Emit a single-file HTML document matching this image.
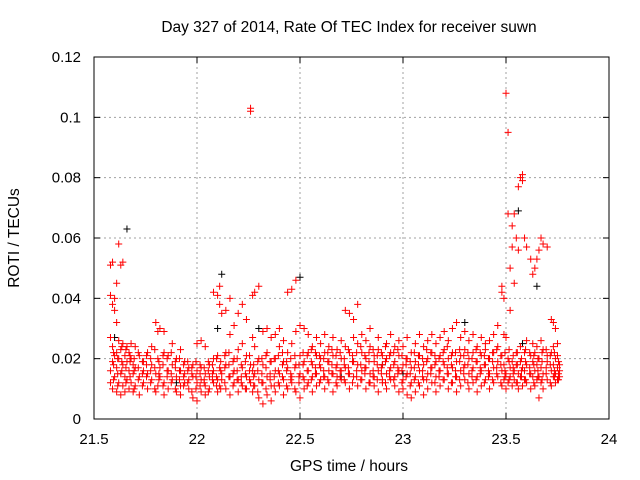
<!DOCTYPE html>
<html><head><meta charset="utf-8"><style>
body{margin:0;background:#fff;}
svg{display:block;font-family:"Liberation Sans",sans-serif;}
</style></head><body>
<svg id="chart" width="640" height="480">
<rect width="640" height="480" fill="#fff"/>
<text x="349" y="32" font-size="15.5" text-anchor="middle">Day 327 of 2014, Rate Of TEC Index for receiver suwn</text>
<text x="349" y="471" font-size="15.5" text-anchor="middle">GPS time / hours</text>
<text x="19" y="238" font-size="15.5" text-anchor="middle" transform="rotate(-90 19 238)">ROTI / TECUs</text>
<g id="grid"></g>
<g id="ticks"></g>
<g id="marks"></g>
<rect x="94" y="57" width="515" height="362" fill="none" stroke="#000" stroke-width="1"/>
</svg>
<script>
const xTicks=[21.5,22,22.5,23,23.5,24];
const xTickLabels=["21.5","22","22.5","23","23.5","24"];
const yTicks=[0,0.02,0.04,0.06,0.08,0.1,0.12];
const yTickLabels=["0","0.02","0.04","0.06","0.08","0.1","0.12"];
const redT=[21.58,21.59,21.60,21.61,21.62,21.63,21.64,21.65,21.66,21.67,21.68,21.69,21.70,21.72,21.74,21.76,21.78,21.80,21.81,21.82,21.84,21.86,21.88,21.90,21.92,21.94,21.96,21.98,22.00,22.02,22.04,22.06,22.08,22.10,22.11,22.12,22.14,22.16,22.18,22.20,22.22,22.24,22.26,22.27,22.28,22.30,22.32,22.34,22.36,22.38,22.40,22.42,22.44,22.46,22.48,22.50,22.52,22.54,22.56,22.58,22.60,22.62,22.64,22.66,22.68,22.70,22.72,22.74,22.76,22.78,22.80,22.82,22.84,22.86,22.88,22.90,22.92,22.94,22.96,22.98,23.00,23.02,23.04,23.06,23.08,23.10,23.12,23.14,23.16,23.18,23.20,23.22,23.24,23.26,23.28,23.30,23.32,23.34,23.36,23.38,23.40,23.42,23.44,23.46,23.48,23.49,23.50,23.51,23.52,23.53,23.54,23.55,23.56,23.57,23.58,23.59,23.60,23.62,23.63,23.64,23.65,23.66,23.67,23.68,23.70,23.72,23.73,23.74,23.75,23.76];
const redV=[[12,16,27,41,51],[10,19,24,52,38],[14,21,36,40],[9,17,22,45,32],[12,20,58,26],[8,15,23,51],[11,18,25,52],[9,14,21],[13,19,24],[10,16,22],[12,20,25],[9,15,18],[11,17,24],[8,14,21],[12,19,16],[10,22,15],[13,18,24],[9,15,32],[11,20,29],[14,17,30],[8,12,29,22],[10,16,21],[13,18,25],[9,14,20],[11,16,23,8],[12,15,19],[10,17,13],[7,14,18],[6,12,16,25],[9,13,26,17],[8,11,15,24],[10,14,18],[12,16,42,20],[9,13,41,21],[11,17,44,38],[13,15,35],[10,18,36,22],[8,14,40,28],[12,16,31,20],[9,13,35,23],[11,17,38,25],[10,14,33,21],[12,18,103,102],[9,16,41,27],[11,15,42,24],[7,13,44,20],[5,12,29,18],[8,14,30,22],[6,11,27,19],[9,16,20,28],[11,15,24,30],[8,13,19,26],[10,17,42,22],[12,14,43,25],[9,18,46,29],[7,15,31,21],[10,13,19,30],[12,16,22,28],[9,18,24,14],[11,15,21,27],[13,17,20,25],[10,14,22,28],[12,19,24,16],[9,15,21,27],[11,18,23,14],[13,16,20,26],[12,17,36,24],[10,15,35,22],[14,19,33,27],[11,18,38,25],[13,16,22,28],[10,17,20,26],[12,15,24,30],[14,19,21,11],[9,16,23,27],[12,18,21,13],[10,15,25,20],[13,17,22,28],[11,14,19,24],[9,16,21,26],[10,13,18,24],[8,15,20,27],[7,12,17,22],[9,14,19,25],[11,16,21,28],[8,13,18,24],[10,15,20,26],[12,17,22,28],[9,14,19,25],[11,16,21,27],[13,18,23,29],[10,15,20,26],[12,17,22,30],[9,14,19,32],[11,16,21,27],[13,18,23,29],[10,15,20,26],[12,17,22,28],[9,14,19,24],[11,16,21,27],[13,18,23,25],[10,15,20,26],[12,17,22,28],[14,19,24,31],[11,16,21,42,44],[13,18,40,28],[10,15,108,27],[12,20,95,68],[14,17,50,36],[11,19,57,64],[13,16,68,45],[12,18,22,60],[10,15,77,56],[14,19,80,24],[11,17,81,79],[13,16,60,22],[12,18,57,26],[10,15,53,21],[14,19,48,25],[11,16,50,22],[13,18,53,24],[7,14,56,20],[12,17,60,26],[10,15,58,23],[13,19,21,57],[11,16,33,22],[14,18,32,24],[12,15,30,20],[13,17,25,21],[14,16,18]];
const redT2=[21.595,21.615,21.635,21.655,21.675,21.695,21.715,21.735,21.755,21.775,21.795,21.815,21.835,21.855,21.875,21.895,21.915,21.935,21.955,21.975,21.995,22.015,22.035,22.055,22.075,22.095,22.115,22.135,22.155,22.175,22.195,22.215,22.235,22.255,22.275,22.295,22.315,22.335,22.355,22.375,22.395,22.415,22.435,22.455,22.475,22.495,22.515,22.535,22.555,22.575,22.595,22.615,22.635,22.655,22.675,22.695,22.715,22.735,22.755,22.775,22.795,22.815,22.835,22.855,22.875,22.895,22.915,22.935,22.955,22.975,22.995,23.015,23.035,23.055,23.075,23.095,23.115,23.135,23.155,23.175,23.195,23.215,23.235,23.255,23.275,23.295,23.315,23.335,23.355,23.375,23.395,23.415,23.435,23.455,23.475,23.495,23.515,23.535,23.555,23.575,23.595,23.615,23.635,23.655,23.675,23.695,23.715,23.735,23.755];
const redV2=[[13,18,22],[11,15,20],[16,19,24],[12,17,23],[14,19,21],[10,16,20],[13,17,22],[11,15,19],[14,18,21],[12,16,20],[10,17,23],[13,15,19],[11,18,21],[14,16,20],[12,15,22],[10,17,19],[13,16,20],[11,14,18],[12,16,19],[9,15,17],[10,14,19],[11,15,18],[12,13,17],[9,16,19],[13,15,18],[11,14,20],[10,16,19],[12,17,21],[14,18,22],[11,15,19],[13,16,20],[12,14,18],[10,15,19],[13,16,21],[11,14,18],[9,16,19],[12,15,20],[10,17,21],[13,15,19],[11,14,20],[12,16,21],[14,18,22],[11,16,19],[13,15,20],[10,17,21],[12,14,18],[14,18,22],[11,16,21],[13,19,23],[15,17,22],[12,18,21],[14,16,20],[13,19,22],[15,18,23],[12,17,21],[14,16,22],[13,18,20],[15,17,23],[12,19,21],[14,16,22],[13,18,24],[15,17,21],[12,19,22],[14,16,23],[13,18,21],[15,17,22],[12,19,24],[14,16,21],[13,18,22],[15,17,23],[12,16,21],[14,18,20],[11,15,19],[13,17,22],[12,18,21],[14,16,20],[13,19,23],[15,17,22],[12,18,21],[14,16,20],[13,19,22],[15,17,24],[12,18,21],[14,16,22],[13,19,23],[15,17,21],[12,18,22],[14,16,20],[13,19,23],[15,17,22],[12,18,21],[14,16,20],[13,19,22],[15,17,23],[12,18,21],[14,16,22],[13,19,23],[15,17,21],[12,18,22],[14,16,20],[13,19,23],[15,17,22],[12,18,21],[14,16,20],[13,19,22],[15,17,23],[12,18,21],[14,16,22],[13,15,19]];
const blackT=[21.66,22.12,23.56,22.50,21.60,22.90,23.30,23.58,23.65,22.10,21.90,23.00,22.70,22.30];
const blackV=[63,48,69,47,27,18,32,25,44,30,12,15,14,30];
const NS="http://www.w3.org/2000/svg";
const X0=94,X1=609,Y0=419,Y1=57;
function sx(v){return X0+(v-21.5)/(24-21.5)*(X1-X0);}
function sy(v){return Y0-(v/0.12)*(Y0-Y1);}
function mk(tag,attrs,parent){const e=document.createElementNS(NS,tag);for(const k in attrs)e.setAttribute(k,attrs[k]);parent.appendChild(e);return e;}
const grid=document.getElementById('grid'),ticks=document.getElementById('ticks'),marks=document.getElementById('marks');
xTicks.forEach((t,i)=>{const x=sx(t);
 if(i>0&&i<xTicks.length-1){const g=mk('line',{x1:x,x2:x,y1:Y1,y2:Y0,stroke:'#a0a0a0','stroke-dasharray':'2,3'},grid);
 
 }
 mk('line',{x1:x,x2:x,y1:Y0,y2:Y0-6,stroke:'#000'},ticks);mk('line',{x1:x,x2:x,y1:Y1,y2:Y1+6,stroke:'#000'},ticks);
 const l=mk('text',{x:x,y:444,'font-size':15,'text-anchor':'middle'},ticks);l.textContent=xTickLabels[i];
 
 });
yTicks.forEach((t,i)=>{const y=sy(t);
 if(i>0&&i<yTicks.length-1){const g=mk('line',{x1:X0,x2:X1,y1:y,y2:y,stroke:'#a0a0a0','stroke-dasharray':'2,3'},grid);
 
 }
 mk('line',{x1:X0,x2:X0+6,y1:y,y2:y,stroke:'#000'},ticks);mk('line',{x1:X1,x2:X1-6,y1:y,y2:y,stroke:'#000'},ticks);
 const l=mk('text',{x:81,y:y+5,'font-size':15,'text-anchor':'end'},ticks);l.textContent=yTickLabels[i];
 
 });
function plus(x,y,c,name){const p=mk('path',{d:`M${x-3.5},${y}h7M${x},${y-3.5}v7`,stroke:c,'stroke-width':1,fill:'none'},marks);
 
 }
blackT.forEach((t,i)=>plus(sx(t),sy(blackV[i]/1000),'#000','black-point'));
redT.forEach((t,i)=>redV[i].forEach(v=>plus(sx(t),sy(v/1000),'#ff0000','red-point')));
redT2.forEach((t,i)=>redV2[i].forEach(v=>plus(sx(t),sy(v/1000),'#ff0000','red-point')));
</script>
</body></html>
